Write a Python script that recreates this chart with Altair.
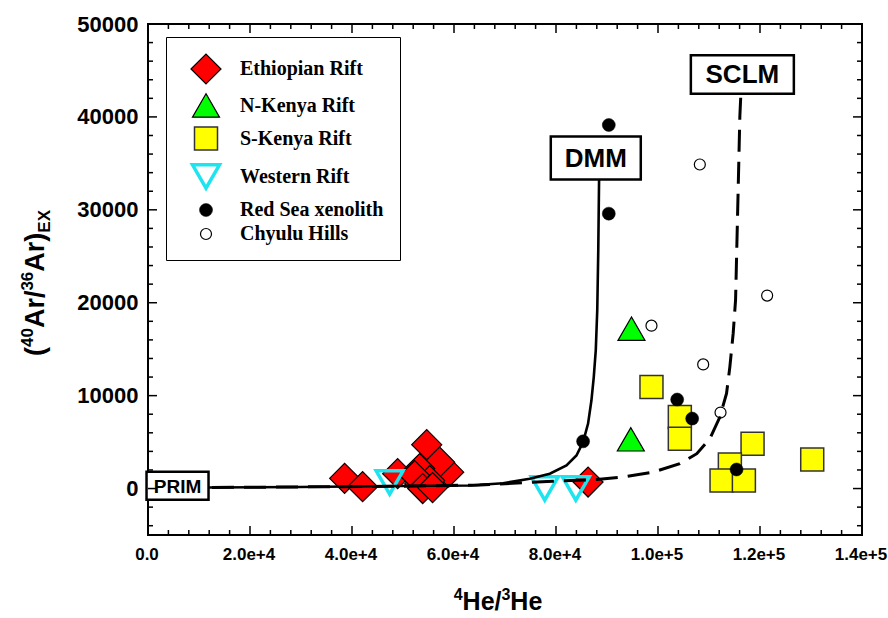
import altair as alt
import pandas as pd

# ---------------- data ----------------
groups = ["Ethiopian Rift", "N-Kenya Rift", "S-Kenya Rift", "Western Rift",
          "Red Sea xenolith", "Chyulu Hills"]

eth_x = [38550, 42080, 48950, 54650, 58960, 57190, 53270, 53270, 55230, 52290, 53860, 55800, 86290]
eth_y = [1100, 200, 1600, 4720, 1760, 2840, 2160, 510, 860, 1400, 0, 100, 700]
nken_x = [94800, 94670]
nken_y = [17200, 5300]
sken_x = [98720, 104280, 104280, 118540, 114090, 112460, 116840, 130240]
sken_y = [10940, 7700, 5370, 4830, 2590, 860, 860, 3130]
west_x = [47380, 77790, 83880]
west_y = [650, 0, 0]
red_x = [90350, 90350, 103760, 106700, 115400, 85310]
red_y = [39130, 29590, 9580, 7530, 2050, 5080]
chy_x = [108200, 98720, 108860, 121400, 112260]
chy_y = [34880, 17530, 13360, 20770, 8180]

# mixing curves
dmm_x = [0, 11670, 29720, 49340, 63080, 69610, 74850, 78780, 82050, 84010, 85310,
         86290, 86950, 87410, 87800, 88090, 88290, 88450]
dmm_y = [50, 110, 160, 270, 320, 570, 1050, 1590, 2480, 3560, 5000,
         6990, 9500, 12020, 14900, 19220, 25700, 33480]
sclm_x = [0, 11670, 49340, 65040, 79360, 88000, 93880, 99000, 104280, 107610, 110170,
          112130, 113440, 114090, 114740, 115210, 115720, 116050, 116250]
sclm_y = [50, 110, 250, 380, 790, 970, 1300, 1760, 2670, 3750, 5370,
          7700, 10230, 13100, 16700, 20300, 32200, 40070, 42490]

# end-member labels
em_labels = ["PRIM", "DMM", "SCLM"]
em_x = [5790, 87800, 116540]
em_y = [300, 35590, 44570]

x_major = [0, 20000, 40000, 60000, 80000, 100000, 120000, 140000]
y_major = [0, 10000, 20000, 30000, 40000, 50000]

# ---------------- layout ----------------
W, H = 714, 511
shapes = ["diamond", "triangle-up", "square", "triangle-down", "circle", "circle"]
fills = ["#ff0000", "#00ff00", "#ffff00", "transparent", "#000000", "#ffffff"]
strokes = ["#000000", "#000000", "#333333", "#1ee4ef", "#000000", "#000000"]
sizes = [900, 729, 529, 729, 169, 121]
swidths = [1.2, 1.2, 1.5, 3.5, 0.5, 1.2]

rows = []
for g, xs, ys in zip(groups, [eth_x, nken_x, sken_x, west_x, red_x, chy_x],
                     [eth_y, nken_y, sken_y, west_y, red_y, chy_y]):
    for a, b in zip(xs, ys):
        rows.append({"group": g, "he": a, "ar": b})
pts = pd.DataFrame(rows)

xscale = alt.Scale(domain=[0, 140000], nice=False, zero=False)
yscale = alt.Scale(domain=[-5000, 50000], nice=False, zero=False)
xaxis = alt.Axis(values=x_major, title=None, ticks=False, domain=False, grid=False,
                 labelExpr="datum.value === 0 ? '0.0' : format(datum.value, '.1e')",
                 labelFontSize=17, labelPadding=11, labelFlush=False, labelOffset=-1.5)
yaxis = alt.Axis(values=y_major, title=None, ticks=False, domain=False, grid=False,
                 format="d", labelFontSize=22, labelPadding=10)

leg = alt.Legend(title=None)
points = alt.Chart(pts).mark_point(opacity=1, filled=True).encode(
    x=alt.X("he:Q", scale=xscale, axis=xaxis),
    y=alt.Y("ar:Q", scale=yscale, axis=yaxis),
    shape=alt.Shape("group:N", scale=alt.Scale(domain=groups, range=shapes), legend=leg),
    fill=alt.Fill("group:N", scale=alt.Scale(domain=groups, range=fills), legend=leg),
    stroke=alt.Stroke("group:N", scale=alt.Scale(domain=groups, range=strokes), legend=leg),
    size=alt.Size("group:N", scale=alt.Scale(type="ordinal", domain=groups, range=sizes), legend=leg),
    strokeWidth=alt.StrokeWidth("group:N", scale=alt.Scale(type="ordinal", domain=groups, range=swidths),
                                legend=leg),
)

dmm_df = pd.DataFrame({"he": dmm_x, "ar": dmm_y, "i": range(len(dmm_x))})
sclm_df = pd.DataFrame({"he": sclm_x, "ar": sclm_y, "i": range(len(sclm_x))})
line_enc = dict(x=alt.X("he:Q", scale=xscale, axis=xaxis),
                y=alt.Y("ar:Q", scale=yscale, axis=yaxis),
                order="i:Q")
dmm_line = alt.Chart(dmm_df).mark_line(color="black", strokeWidth=2.6).encode(**line_enc)
sclm_line = alt.Chart(sclm_df).mark_line(color="black", strokeWidth=3,
                                         strokeDash=[22, 10]).encode(**line_enc)

# boxed end-member labels
box_paths = ["M-3.1,-1.4H3.1V1.4H-3.1Z", "M-4.5,-2.15H4.5V2.15H-4.5Z", "M-5.15,-1.93H5.15V1.93H-5.15Z"]
box_fonts = [19, 26, 26]
em_layers = []
for lab, a, b, p, fs in zip(em_labels, em_x, em_y, box_paths, box_fonts):
    d = pd.DataFrame({"he": [a], "ar": [b], "t": [lab]})
    enc = dict(x=alt.X("he:Q", scale=xscale, axis=xaxis), y=alt.Y("ar:Q", scale=yscale, axis=yaxis))
    em_layers.append(alt.Chart(d).mark_point(shape=p, size=400, filled=True, fill="white",
                                             stroke="black", strokeWidth=2.5, opacity=1).encode(**enc))
    em_layers.append(alt.Chart(d).mark_text(font="Liberation Sans", fontWeight="bold", fontSize=fs,
                                            align="center", baseline="middle", dy=1,
                                            color="black").encode(text="t:N", **enc))

# inward ticks on all four sides
def tick_layers():
    out = []
    x_minor = [v for v in range(0, 140001, 4000) if v not in x_major]
    y_minor = [v for v in range(-4000, 50001, 2000) if v not in y_major]
    for vals, ln in [(x_major, 9), (x_minor, 5)]:
        d = pd.DataFrame({"he": vals})
        xe = alt.X("he:Q", scale=xscale, axis=xaxis)
        out.append(alt.Chart(d).mark_rule(color="black", strokeWidth=1.5).encode(
            x=xe, y=alt.value(H), y2=alt.value(H - ln)))
        out.append(alt.Chart(d).mark_rule(color="black", strokeWidth=1.5).encode(
            x=xe, y=alt.value(0), y2=alt.value(ln)))
    for vals, ln in [(y_major, 9), (y_minor, 5)]:
        d = pd.DataFrame({"ar": vals})
        ye = alt.Y("ar:Q", scale=yscale, axis=yaxis)
        out.append(alt.Chart(d).mark_rule(color="black", strokeWidth=1.5).encode(
            y=ye, x=alt.value(0), x2=alt.value(ln)))
        out.append(alt.Chart(d).mark_rule(color="black", strokeWidth=1.5).encode(
            y=ye, x=alt.value(W), x2=alt.value(W - ln)))
    return out

# axis titles built from pieces (super/subscripts)
AW = {'(': .333, ')': .333, 'A': .722, 'r': .389, '/': .278, 'H': .722, 'e': .556,
      'E': .667, 'X': .667}
def tw(s, fs):
    return sum(AW.get(c, .556) for c in s) * fs

def text_piece(s, fs, px, py, angle=0):
    d = pd.DataFrame({"t": [s]})
    kw = dict(font="Liberation Sans", fontWeight="bold", fontSize=fs, align="left",
              baseline="alphabetic", color="black")
    if angle:
        kw["angle"] = angle
    return alt.Chart(d).mark_text(**kw).encode(text="t:N", x=alt.value(px), y=alt.value(py))

title_layers = []
# x title: 4He/3He
xt = [("4", 16, -10), ("He/", 25, 0), ("3", 16, -10), ("He", 25, 0)]
total = sum(tw(s, f) for s, f, _ in xt)
cx, base = 350, 586
pos = cx - total / 2
for s, f, sh in xt:
    title_layers.append(text_piece(s, f, pos, base + sh))
    pos += tw(s, f)
# y title: (40Ar/36Ar)EX rotated
yt = [("(", 27, 0), ("40", 17, -11), ("Ar/", 27, 0), ("36", 17, -11), ("Ar)", 27, 0), ("EX", 17, 6)]
total = sum(tw(s, f) for s, f, _ in yt)
cy, basex = 259, -104
pos = cy + total / 2
for s, f, sh in yt:
    title_layers.append(text_piece(s, f, basex + sh, pos, angle=270))
    pos -= tw(s, f)

chart = alt.layer(points, dmm_line, sclm_line, *em_layers, *tick_layers(), *title_layers).properties(
    width=W, height=H,
    autosize=alt.AutoSizeParams(type="none"),
    padding={"left": 148, "top": 24, "right": 26, "bottom": 83},
    background="white",
).configure_view(stroke="black", strokeWidth=2).configure_axis(
    labelFont="Liberation Sans", labelFontWeight="bold", labelColor="black"
).configure_legend(
    orient="none", legendX=18, legendY=13, padding=16, symbolOffset=8,
    strokeColor="black", fillColor="white", rowPadding=4, labelOffset=18,
    labelFont="Liberation Serif", labelFontSize=20, labelFontWeight="bold", labelColor="black",
    labelLimit=300,
)

chart.save("out.html", embed_options={"renderer": "svg", "actions": False})
